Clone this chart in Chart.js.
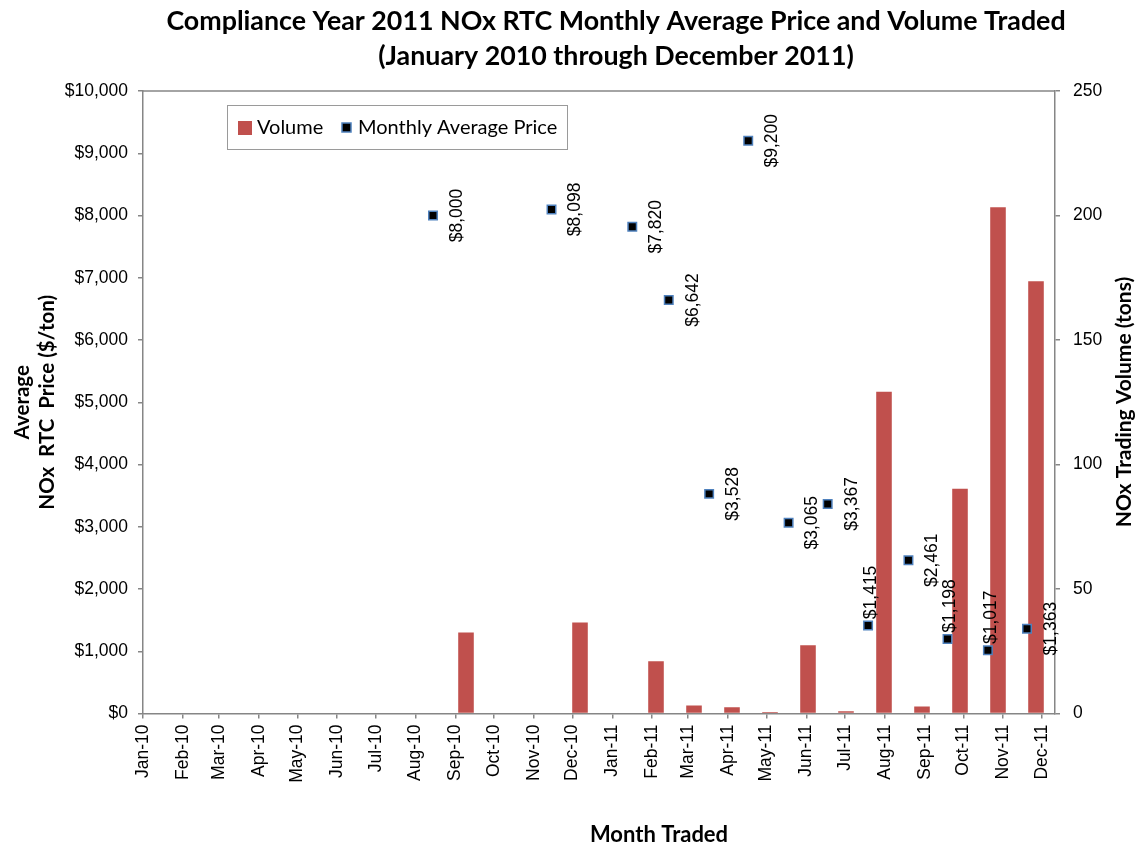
<!DOCTYPE html>
<html>
<head>
<meta charset="utf-8">
<script src="https://cdn.jsdelivr.net/npm/chart.js@4.4.0/dist/chart.umd.min.js"></script>
<style>
  html, body { margin: 0; padding: 0; background: #fff; }
  #wrap { width: 1142px; height: 845px; }
</style>
</head>
<body>
<div id="wrap"><canvas id="myChart"></canvas></div>
<script>
const months = ['Jan-10', 'Feb-10', 'Mar-10', 'Apr-10', 'May-10', 'Jun-10', 'Jul-10', 'Aug-10',
  'Sep-10', 'Oct-10', 'Nov-10', 'Dec-10', 'Jan-11', 'Feb-11', 'Mar-11', 'Apr-11', 'May-11',
  'Jun-11', 'Jul-11', 'Aug-11', 'Sep-11', 'Oct-11', 'Nov-11', 'Dec-11'];
// tons traded per month (right axis)
const volumeTons = [null, null, null, null, null, null, null, null,
  32.5, null, null, 36.5, null, 21, 3.2, 2.5, 0.6,
  27.4, 0.9, 129.2, 2.8, 90.3, 203.3, 173.6];
// $/ton monthly average (left axis)
const avgPrice = [null, null, null, null, null, null, null, null,
  8000, null, null, 8098, null, 7820, 6642, 3528, 9200,
  3065, 3367, 1415, 2461, 1198, 1017, 1363];
const priceTicks = [0, 1000, 2000, 3000, 4000, 5000, 6000, 7000, 8000, 9000, 10000];
const volumeTicks = [0, 50, 100, 150, 200, 250];

// where each price label sits relative to its marker
const labelPos = [null, null, null, null, null, null, null, null,
  'right', null, null, 'right', null, 'right', 'right', 'right', 'right',
  'right', 'right', 'above', 'right', 'above', 'above', 'right'];

const MON = ['Jan','Feb','Mar','Apr','May','Jun','Jul','Aug','Sep','Oct','Nov','Dec'];
function dayOf(label) {
  const [m, y] = label.split('-');
  return (Date.UTC(2000 + Number(y), MON.indexOf(m), 1) - Date.UTC(2010, 0, 1)) / 864e5;
}

const AXIS = '#868686';
const tickFont = { family: '"Liberation Sans", Arial, sans-serif', size: 17.5 };

const pricePoints = [];
avgPrice.forEach((p, i) => {
  if (p !== null) pricePoints.push({ x: dayOf(months[i]), y: p, pos: labelPos[i] });
});

const chartText = {
  id: 'chartText',
  afterDraw(chart) {
    const ctx = chart.ctx;
    ctx.save();
    ctx.fillStyle = '#000';
    ctx.textAlign = 'center';
    ctx.textBaseline = 'middle';
    ctx.font = 'bold 26.8px Lato';
    ctx.fillText('Compliance Year 2011 NOx RTC Monthly Average Price and Volume Traded', 616, 21.5);
    ctx.fillText('(January 2010 through December 2011)', 616, 56.5);

    ctx.font = 'bold 22px Lato';
    ctx.fillText('Month Traded', 659, 835);
    ctx.font = 'bold 21px Lato';
    ctx.translate(1124, 402);
    ctx.rotate(-Math.PI / 2);
    ctx.fillText('NOx Trading Volume (tons)', 0, 0);
    ctx.restore();

    // top frame line
    const a = chart.chartArea;
    ctx.save();
    ctx.strokeStyle = AXIS;
    ctx.lineWidth = 1.5;
    ctx.beginPath();
    ctx.moveTo(a.left, a.top);
    ctx.lineTo(a.right, a.top);
    ctx.stroke();
    ctx.restore();

    // legend
    ctx.save();
    ctx.strokeStyle = '#9a9a9a';
    ctx.lineWidth = 1;
    ctx.fillStyle = '#fff';
    ctx.fillRect(227.5, 105.5, 340, 44);
    ctx.strokeRect(227.5, 105.5, 340, 44);
    ctx.fillStyle = '#c0504d';
    ctx.fillRect(238, 121, 14, 14);
    ctx.fillStyle = '#000';
    ctx.fillRect(342, 123, 9, 9);
    ctx.strokeStyle = '#4f81bd';
    ctx.lineWidth = 1.5;
    ctx.strokeRect(342, 123, 9, 9);
    ctx.fillStyle = '#000';
    ctx.font = '20px Lato';
    ctx.textAlign = 'left';
    ctx.textBaseline = 'middle';
    ctx.fillText('Volume', 257, 128);
    ctx.fillText('Monthly Average Price', 358, 128);
    ctx.restore();
  },
  afterDatasetsDraw(chart) {
    const ctx = chart.ctx;
    const meta = chart.getDatasetMeta(0);
    ctx.save();
    ctx.fillStyle = '#000';
    ctx.font = '17.5px "Liberation Sans", Arial';
    ctx.textAlign = 'center';
    ctx.textBaseline = 'middle';
    meta.data.forEach((pt, i) => {
      const d = pricePoints[i];
      let x = pt.x + 24, y = pt.y;
      if (d.pos === 'above') { x = pt.x + 3; y = pt.y - 33; }
      ctx.save();
      ctx.translate(x, y);
      ctx.rotate(-Math.PI / 2);
      ctx.fillText('$' + d.y.toLocaleString('en-US'), 0, 0);
      ctx.restore();
    });
    ctx.restore();
  }
};

const chart = new Chart(document.getElementById('myChart'), {
  type: 'bar',
  data: {
    datasets: [
      {
        type: 'scatter',
        label: 'Monthly Average Price',
        data: pricePoints,
        xAxisID: 'xp',
        yAxisID: 'y',
        order: 1,
        pointStyle: 'rect',
        radius: 6,
        backgroundColor: '#000',
        borderColor: '#4f81bd',
        borderWidth: 1.5
      },
      {
        type: 'bar',
        label: 'Volume',
        data: volumeTons,
        xAxisID: 'xb',
        yAxisID: 'y1',
        order: 2,
        grouped: false,
        backgroundColor: '#c0504d',
        categoryPercentage: 1,
        barPercentage: 0.41
      }
    ]
  },
  options: {
    responsive: true,
    maintainAspectRatio: false,
    animation: false,
    layout: { padding: { top: 91, left: 0, right: 0, bottom: 0 } },
    plugins: {
      legend: { display: false },
      tooltip: { enabled: false }
    },
    scales: {
      xb: { type: 'category', labels: months, offset: true, display: false },
      xp: { type: 'linear', min: 20.4, max: 720.5, offset: false, display: false },
      xt: {
        type: 'linear',
        position: 'bottom',
        min: 0,
        max: 709.3,
        offset: false,
        afterBuildTicks: (s) => { s.ticks = months.map(m => ({ value: dayOf(m) })); },
        afterFit: (s) => { s.height = 131.5; },
        ticks: {
          autoSkip: false,
          minRotation: 90,
          maxRotation: 90,
          padding: 6,
          color: '#000',
          font: tickFont,
          callback: (v) => months.find(m => dayOf(m) === v)
        },
        grid: { offset: false, drawOnChartArea: false, drawTicks: true, tickLength: 5, color: AXIS, lineWidth: 1.5 },
        border: { color: AXIS, width: 1.5 }
      },
      y: {
        position: 'left',
        min: 0,
        max: 10000,
        afterBuildTicks: (s) => { s.ticks = priceTicks.map(v => ({ value: v })); },
        afterFit: (s) => { s.width = 143; },
        ticks: {
          padding: 10,
          color: '#000',
          font: tickFont,
          callback: (v) => '$' + v.toLocaleString('en-US')
        },
        grid: { drawOnChartArea: false, drawTicks: true, tickLength: 5, color: AXIS, lineWidth: 1.5 },
        border: { color: AXIS, width: 1.5 },
        title: {
          display: true,
          text: ['Average', 'NOx  RTC  Price ($/ton)'],
          color: '#000',
          font: { family: 'Lato, sans-serif', weight: 'bold', size: 20.5, lineHeight: 25 / 20.5 },
          padding: { top: 9.5, bottom: 0 }
        }
      },
      y1: {
        position: 'right',
        min: 0,
        max: 250,
        afterBuildTicks: (s) => { s.ticks = volumeTicks.map(v => ({ value: v })); },
        afterFit: (s) => { s.width = 87; },
        ticks: { padding: 13, color: '#000', font: tickFont },
        grid: { drawOnChartArea: false, drawTicks: true, tickLength: 5, color: AXIS, lineWidth: 1.5 },
        border: { color: AXIS, width: 1.5 }
      }
    }
  },
  plugins: [chartText]
});
</script>
</body>
</html>
